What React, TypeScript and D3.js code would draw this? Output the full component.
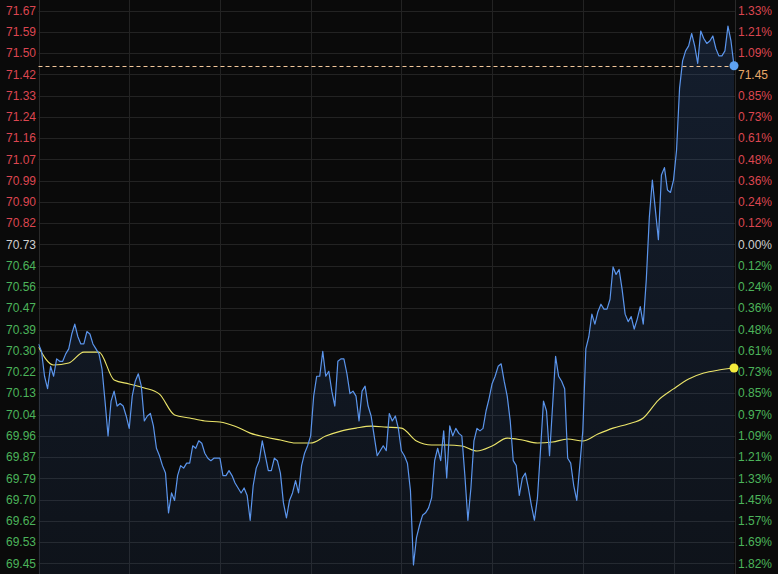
import React from 'react';
import * as d3 from 'd3';

// ---- data ----
const prevClose = 70.7305;
const rowStep = 0.0856;
const zeroRow = 11;

const leftTicks = [
  '71.67', '71.59', '71.50', '71.42', '71.33', '71.24', '71.16', '71.07', '70.99', '70.90', '70.82',
  '70.73',
  '70.64', '70.56', '70.47', '70.39', '70.30', '70.22', '70.13', '70.04', '69.96', '69.87', '69.79',
  '69.70', '69.62', '69.53', '69.45',
];
const rightTicks = [
  '1.33%', '1.21%', '1.09%', '0.97%', '0.85%', '0.73%', '0.61%', '0.48%', '0.36%', '0.24%', '0.12%',
  '0.00%',
  '0.12%', '0.24%', '0.36%', '0.48%', '0.61%', '0.73%', '0.85%', '0.97%', '1.09%', '1.21%', '1.33%',
  '1.45%', '1.57%', '1.69%', '1.82%',
];

const prices = [
  70.33, 70.30, 70.20, 70.15, 70.24, 70.20, 70.27, 70.26, 70.26, 70.29,
  70.31, 70.37, 70.41, 70.36, 70.33, 70.33, 70.38, 70.37, 70.33, 70.31,
  70.29, 70.23, 70.10, 69.96, 70.10, 70.14, 70.08, 70.09, 70.08, 70.04,
  69.99, 70.12, 70.18, 70.21, 70.16, 70.02, 70.04, 70.05, 70.00, 69.91,
  69.88, 69.84, 69.81, 69.65, 69.73, 69.70, 69.80, 69.84, 69.83, 69.85,
  69.85, 69.92, 69.91, 69.94, 69.93, 69.89, 69.87, 69.86, 69.87, 69.87,
  69.87, 69.80, 69.80, 69.82, 69.80, 69.77, 69.75, 69.73, 69.75, 69.72,
  69.62, 69.76, 69.83, 69.86, 69.94, 69.88, 69.82, 69.82, 69.87, 69.86,
  69.81, 69.69, 69.63, 69.70, 69.73, 69.78, 69.73, 69.84, 69.89, 69.92,
  69.96, 70.12, 70.20, 70.20, 70.30, 70.20, 70.22, 70.14, 70.08, 70.26,
  70.27, 70.27, 70.21, 70.13, 70.14, 70.12, 70.02, 70.14, 70.16, 70.08,
  70.04, 69.96, 69.88, 69.90, 69.92, 69.90, 70.05, 70.02, 70.04, 69.99,
  69.90, 69.88, 69.85, 69.74, 69.44, 69.55, 69.60, 69.64, 69.65, 69.67,
  69.71, 69.86, 69.91, 69.86, 69.98, 69.79, 70.00, 69.96, 69.99, 69.97,
  69.96, 69.80, 69.62, 69.75, 69.94, 69.99, 69.98, 69.99, 70.06, 70.11,
  70.17, 70.20, 70.24, 70.25, 70.18, 70.12, 70.02, 69.86, 69.84, 69.72,
  69.79, 69.81, 69.75, 69.68, 69.62, 69.71, 69.90, 70.10, 70.06, 69.88,
  70.08, 70.28, 70.20, 70.18, 70.15, 69.87, 69.85, 69.76, 69.70, 69.84,
  69.98, 70.31, 70.36, 70.45, 70.41, 70.46, 70.49, 70.47, 70.47, 70.51,
  70.64, 70.61, 70.63, 70.55, 70.45, 70.42, 70.44, 70.39, 70.43, 70.48,
  70.41, 70.59, 70.84, 70.99, 70.87, 70.75, 71.01, 71.04, 70.95, 70.94,
  70.99, 71.11, 71.36, 71.47, 71.51, 71.53, 71.58, 71.53, 71.46, 71.59,
  71.56, 71.54, 71.55, 71.57, 71.52, 71.49, 71.49, 71.51, 71.61, 71.55,
  71.45,
];

// average price sampled every 5 minutes
const avgEvery = 5;
const avgPrices = [
  70.318, 70.245, 70.253, 70.297, 70.297, 70.185, 70.169, 70.153, 70.128, 70.044,
  70.032, 70.020, 70.016, 69.999, 69.971, 69.955, 69.943, 69.931, 69.931, 69.959,
  69.979, 69.991, 69.999, 69.995, 69.991, 69.939, 69.923, 69.923, 69.919, 69.899,
  69.919, 69.951, 69.943, 69.931, 69.935, 69.947, 69.939, 69.967, 69.991, 70.008,
  70.032, 70.104, 70.149, 70.189, 70.213, 70.225, 70.233,
];

const gridEvery = 30;

// ---- styles ----
const W = 778;
const H = 574;
const plotLeft = 38.5;
const plotRight = 735;
const BG = '#0a0a0a';
const GRID = '#232323';
const RED = '#dc4650';
const GREEN = '#4cb45a';
const GRAY = '#cfcfcf';
const BLUE = '#5b95ec';
const YELLOW = '#ece56a';
const TAG = '#e8a868';
const FONT = '"Liberation Sans", Arial, sans-serif';

export default function App() {
  const n = prices.length;
  const x = d3.scaleLinear().domain([0, n - 1]).range([plotLeft, 734]);
  const y = d3
    .scaleLinear()
    .domain([prevClose - 15.5 * rowStep, prevClose + 11.5 * rowStep])
    .range([H, 0]);

  const rowY = (i: number) => y(prevClose + (zeroRow - i) * rowStep);

  const line = d3
    .line<number>()
    .x((_, i) => x(i))
    .y((d) => y(d));
  const area = d3
    .area<number>()
    .x((_, i) => x(i))
    .y0(H)
    .y1((d) => y(d));
  const avgLine = d3
    .line<number>()
    .curve(d3.curveMonotoneX)
    .x((_, i) => x(i * avgEvery))
    .y((d) => y(d));

  const last = prices[n - 1];
  const lastAvg = avgPrices[avgPrices.length - 1];
  // the right label closest to the last price is replaced by the price tag
  let tagRow = 0;
  let best = Infinity;
  leftTicks.forEach((_, i) => {
    const d = Math.abs(prevClose + (zeroRow - i) * rowStep - last);
    if (d < best) {
      best = d;
      tagRow = i;
    }
  });

  const vGrid = d3.range(gridEvery, n - 1, gridEvery);
  const colorFor = (i: number) => (i < zeroRow ? RED : i === zeroRow ? GRAY : GREEN);

  return (
    <div style={{ position: 'fixed', left: 0, top: 0, width: W, height: H, background: BG }}>
      <svg width={W} height={H} style={{ display: 'block' }}>
        <defs>
          <linearGradient id="fillGrad" gradientUnits="userSpaceOnUse" x1="0" y1="0" x2="0" y2={H}>
            <stop offset="0" stopColor="#3c6ebe" stopOpacity={0.2} />
            <stop offset="1" stopColor="#3c6ebe" stopOpacity={0.09} />
          </linearGradient>
          <clipPath id="plotClip">
            <rect x={plotLeft} y={0} width={plotRight - plotLeft} height={H} />
          </clipPath>
        </defs>
        <rect x={0} y={0} width={W} height={H} fill={BG} />

        {leftTicks.map((_, i) => (
          <line
            key={'h' + i}
            x1={plotLeft}
            x2={plotRight}
            y1={Math.round(rowY(i)) + 0.5}
            y2={Math.round(rowY(i)) + 0.5}
            stroke={GRID}
            strokeWidth={1}
          />
        ))}
        {vGrid.map((i) => (
          <line
            key={'v' + i}
            x1={Math.round(x(i)) + 0.5}
            x2={Math.round(x(i)) + 0.5}
            y1={0}
            y2={H}
            stroke={GRID}
            strokeWidth={1}
          />
        ))}
        <line x1={39.5} x2={39.5} y1={0} y2={H} stroke="#2a2a2a" />
        <line x1={plotRight + 0.5} x2={plotRight + 0.5} y1={0} y2={H} stroke="#2a2a2a" />

        <g clipPath="url(#plotClip)">
          <path d={area(prices) || ''} fill="url(#fillGrad)" />
          <path d={avgLine(avgPrices) || ''} fill="none" stroke={YELLOW} strokeWidth={1.1} />
          <path d={line(prices) || ''} fill="none" stroke={BLUE} strokeWidth={1.2} strokeLinejoin="round" />
        </g>

        <line
          x1={plotLeft}
          x2={plotRight}
          y1={Math.round(y(last)) + 0.5}
          y2={Math.round(y(last)) + 0.5}
          stroke="#f3c79a"
          strokeWidth={1}
          strokeDasharray="4,3"
        />

        <circle cx={x(n - 1)} cy={y(last)} r={4.5} fill="#5ea2f2" />
        <circle cx={x((avgPrices.length - 1) * avgEvery)} cy={y(lastAvg)} r={4.5} fill="#f5ec3c" />

        {leftTicks.map((t, i) => (
          <text
            key={'l' + i}
            x={36}
            y={rowY(i)}
            dy="0.35em"
            textAnchor="end"
            fontFamily={FONT}
            fontSize={12}
            fill={colorFor(i)}
          >
            {t}
          </text>
        ))}
        {rightTicks.map((t, i) => (
          <text
            key={'r' + i}
            x={738}
            y={rowY(i)}
            dy="0.35em"
            textAnchor="start"
            fontFamily={FONT}
            fontSize={12}
            fill={i === tagRow ? TAG : colorFor(i)}
          >
            {i === tagRow ? last.toFixed(2) : t}
          </text>
        ))}
      </svg>
    </div>
  );
}
